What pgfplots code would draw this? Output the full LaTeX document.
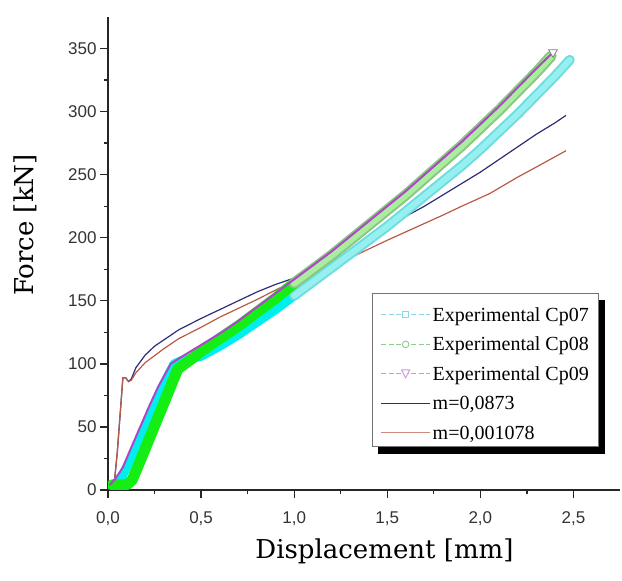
\documentclass[border=0pt]{standalone}
\usepackage{pgfplots}
\pgfplotsset{compat=1.18}
\usepackage{fontspec}
\setmainfont{Liberation Serif}
\newfontfamily\labelfont{DejaVu Serif}
\newfontfamily\tickfont{Liberation Sans}
\usetikzlibrary{backgrounds}

\definecolor{cpcyan}{RGB}{0,238,238}
\definecolor{cpcyanE}{RGB}{110,220,225}
\definecolor{cpcyanL}{RGB}{150,240,240}
\definecolor{cpgreen}{RGB}{20,238,20}
\definecolor{cpgreenE}{RGB}{135,200,125}
\definecolor{cpgreenL}{RGB}{170,236,160}
\definecolor{cpviolet}{RGB}{175,70,200}
\definecolor{mblue}{RGB}{45,45,120}
\definecolor{mred}{RGB}{185,90,70}
\definecolor{lgcyan}{RGB}{140,215,230}
\definecolor{lggreen}{RGB}{140,205,140}
\definecolor{lgviolet}{RGB}{205,150,225}

\begin{document}
\begin{tikzpicture}
\begin{axis}[
    width=512pt, height=473pt, scale only axis,
    xmin=0, xmax=2.75, ymin=0, ymax=375,
    axis lines*=left,
    axis line style={line width=1.6pt, black!85},
    xtick={0,0.5,...,2.5}, ytick={0,50,...,350},
    minor x tick num=1, minor y tick num=1,
    tick align=outside,
    major tick length=8pt, minor tick length=4pt,
    every tick/.style={line width=1.3pt, black!85},
    /pgf/number format/assume math mode=true,
    tick label style={font=\fontsize{17}{19}\selectfont\tickfont, text=black!80},
    xticklabel style={yshift=-10pt, /pgf/number format/.cd, fixed, fixed zerofill, precision=1, use comma},
    yticklabel style={/pgf/number format/.cd, fixed, precision=0},
    xlabel={Displacement [mm]}, ylabel={Force [kN]},
    label style={font=\fontsize{26}{30}\selectfont\labelfont},
    xlabel style={at={(axis description cs:0.54,-0.129)}, anchor=center},
    ylabel style={at={(axis description cs:-0.162,0.56)}, anchor=center},
    legend style={name=lgd, at={(axis description cs:0.516,0.417)}, anchor=north west,
        draw=black!55, line width=0.7pt, fill=white,
        font=\fontsize{20}{22}\selectfont,
        inner xsep=8pt, inner ysep=4pt, row sep=2pt,
        cells={anchor=west, text height=22pt, text depth=1pt}},
    legend cell align=left,
]
% model curves (under the experimental bands)
\addplot[mblue, line width=1.2pt, forget plot] coordinates {
(0.03,0) (0.05,30) (0.08,89) (0.095,89) (0.11,86) (0.125,88) (0.15,97) (0.2,107)
(0.25,114) (0.3,119) (0.38,127) (0.5,136) (0.6,143) (0.7,150) (0.8,157) (0.9,163)
(1.0,168) (1.1,174) (1.2,180) (1.3,188) (1.4,197) (1.5,207) (1.6,217) (1.7,225)
(1.8,234) (1.9,243) (2.0,252) (2.1,262) (2.2,272) (2.3,282) (2.4,291) (2.46,297)};
\addplot[mred, line width=1.2pt, forget plot] coordinates {
(0.03,0) (0.05,30) (0.08,89) (0.095,89) (0.11,86) (0.125,87) (0.15,93) (0.2,101)
(0.3,112) (0.38,120) (0.5,129) (0.6,137) (0.7,144) (0.8,151) (0.92,160) (1.0,165)
(1.1,171) (1.19,177) (1.3,184) (1.4,191) (1.5,198) (1.62,206) (1.8,218) (1.9,225)
(2.05,235) (2.2,248) (2.3,256) (2.46,269)};
% Cp07
\addplot[cpcyan, line width=9pt, line cap=round, line join=round, forget plot] coordinates {
(0.03,4) (0.07,9) (0.12,24) (0.17,41) (0.22,58) (0.27,75) (0.32,90) (0.355,100)
(0.4,103) (0.5,106) (0.6,114) (0.7,123) (0.8,133) (0.9,143) (1.0,154)};
\addplot[cpcyanE, line width=10pt, line cap=round, line join=round, forget plot] coordinates {
(1.0,154) (1.1,165) (1.2,176) (1.3,187) (1.4,198) (1.5,209) (1.6,221) (1.7,233)
(1.8,245) (1.9,257) (2.0,270) (2.1,284) (2.2,298) (2.3,313) (2.4,328) (2.48,341)};
\addplot[cpcyanL, line width=6pt, line cap=round, line join=round, forget plot] coordinates {
(1.0,154) (1.1,165) (1.2,176) (1.3,187) (1.4,198) (1.5,209) (1.6,221) (1.7,233)
(1.8,245) (1.9,257) (2.0,270) (2.1,284) (2.2,298) (2.3,313) (2.4,328) (2.48,341)};
% Cp08
\addplot[cpgreen, line width=11pt, line cap=round, line join=round, forget plot] coordinates {
(0.02,4) (0.06,4) (0.10,4) (0.13,8) (0.17,22) (0.22,40) (0.27,58) (0.32,76)
(0.375,96) (0.45,104) (0.5,110) (0.6,120) (0.7,130) (0.8,141) (0.9,152) (1.0,164)};
\addplot[cpgreenE, line width=11pt, line cap=round, line join=round, forget plot] coordinates {
(1.0,164) (1.1,175) (1.2,186) (1.3,198) (1.4,210) (1.5,222) (1.6,234) (1.7,247)
(1.8,260) (1.9,273) (2.0,287) (2.1,301) (2.2,316) (2.3,331) (2.38,344)};
\addplot[cpgreenL, line width=7pt, line cap=round, line join=round, forget plot] coordinates {
(1.0,164) (1.1,175) (1.2,186) (1.3,198) (1.4,210) (1.5,222) (1.6,234) (1.7,247)
(1.8,260) (1.9,273) (2.0,287) (2.1,301) (2.2,316) (2.3,331) (2.38,344)};
% Cp09
\addplot[cpviolet, line width=2pt, line cap=round, line join=round, forget plot] coordinates {
(0.01,4) (0.04,9) (0.08,18) (0.12,32) (0.17,49) (0.22,66) (0.27,82) (0.337,100)
(0.4,106) (0.5,115) (0.6,124) (0.7,134) (0.8,145) (0.9,156) (1.0,167) (1.1,178)
(1.2,189) (1.3,201) (1.4,213) (1.5,225) (1.6,237) (1.7,250) (1.8,263) (1.9,276)
(2.0,290) (2.1,304) (2.2,319) (2.3,334) (2.39,347)};
\addplot[only marks, mark=triangle*, mark size=5pt,
    mark options={rotate=180, draw=black!50, fill=white, line width=0.8pt}, forget plot]
    coordinates {(2.39,347)};

% legend
\addlegendimage{legend image code/.code={
    \draw[lgcyan, line width=1pt, dash pattern=on 5pt off 2.5pt] (0pt,-4pt) -- (49pt,-4pt);
    \draw[lgcyan, fill=white, line width=0.9pt] (21.5pt,-7pt) rectangle (27.5pt,-1pt);}}
\addlegendentry{Experimental Cp07}
\addlegendimage{legend image code/.code={
    \draw[lggreen, line width=1pt, dash pattern=on 5pt off 2.5pt] (0pt,-4pt) -- (49pt,-4pt);
    \draw[lggreen, fill=white, line width=0.9pt] (24.5pt,-4pt) circle (3.3pt);}}
\addlegendentry{Experimental Cp08}
\addlegendimage{legend image code/.code={
    \draw[lgviolet, line width=1pt, dash pattern=on 5pt off 2.5pt] (0pt,-4pt) -- (49pt,-4pt);
    \draw[lgviolet, fill=white, line width=0.9pt] (20.5pt,0pt) -- (28.5pt,0pt) -- (24.5pt,-8pt) -- cycle;}}
\addlegendentry{Experimental Cp09}
\addlegendimage{legend image code/.code={
    \draw[mblue, line width=1.2pt] (0pt,-4pt) -- (49pt,-4pt);}}
\addlegendentry{m=0,0873}
\addlegendimage{legend image code/.code={
    \draw[mred!70, line width=1.2pt] (0pt,-4pt) -- (49pt,-4pt);}}
\addlegendentry{m=0,001078}
\end{axis}
\begin{scope}[on background layer]
\fill[black] ([xshift=6pt,yshift=-7pt]lgd.south west) rectangle ([xshift=6pt,yshift=-7pt]lgd.north east);
\end{scope}
\pgfresetboundingbox
\path[use as bounding box] ([xshift=-108pt,yshift=-91pt]current axis.south west)
    rectangle ([xshift=2pt,yshift=17pt]current axis.north east);
\end{tikzpicture}
\end{document}
